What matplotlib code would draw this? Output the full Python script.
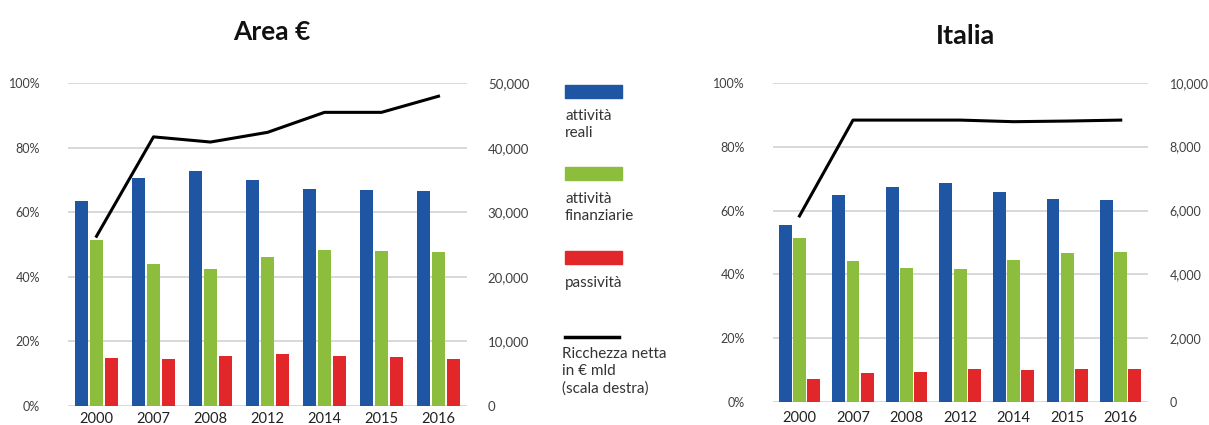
import matplotlib
matplotlib.use("Agg")
import matplotlib.pyplot as plt
import numpy as np
from matplotlib.ticker import FuncFormatter

plt.rcParams['font.family'] = ['Lato', 'DejaVu Sans']

years = ["2000", "2007", "2008", "2012", "2014", "2015", "2016"]

# Area euro (% shares, left axis) and net wealth (right axis, € bn)
ea_reali = [63.6, 70.7, 72.7, 70.0, 67.3, 66.9, 66.6]
ea_finanz = [51.3, 44.0, 42.6, 46.1, 48.2, 48.1, 47.8]
ea_passiv = [15.0, 14.6, 15.5, 16.2, 15.5, 15.2, 14.6]
ea_ricchezza = [26300, 41700, 40900, 42400, 45500, 45500, 48000]

# Italia
it_reali = [55.6, 65.0, 67.4, 68.6, 65.8, 63.7, 63.3]
it_finanz = [51.5, 44.2, 42.0, 41.7, 44.4, 46.7, 47.1]
it_passiv = [7.3, 9.3, 9.6, 10.3, 10.2, 10.3, 10.3]
it_ricchezza = [5830, 8830, 8830, 8830, 8780, 8800, 8830]

titles = ["Area €", "Italia"]
legend_labels = ["attività\nreali", "attività\nfinanziarie", "passività",
                 "Ricchezza netta\nin € mld\n(scala destra)"]

C_BLUE = "#1f56a3"
C_GREEN = "#8dbd3d"
C_RED = "#e2272a"
GRID = "#d2d2d2"
TXT = "#404040"

W, H = 1209, 425
fig = plt.figure(figsize=(W / 100, H / 100), dpi=100)


def px_axes(x0, x1, ytop, ybot):
    return fig.add_axes([x0 / W, (H - ybot) / H, (x1 - x0) / W, (ybot - ytop) / H])


def draw(ax, reali, finanz, passiv, ricch, rmax, rstep, title, title_xy, title_size,
         xlab_pad, lpad, rpad, rsize):
    x = np.arange(len(years))
    off = 0.265
    wd = 0.24
    ax.bar(x - off, reali, wd, color=C_BLUE, zorder=3)
    ax.bar(x, finanz, wd, color=C_GREEN, zorder=3)
    ax.bar(x + off, passiv, wd, color=C_RED, zorder=3)
    ax.set_xlim(-0.5, len(years) - 0.5)
    ax.set_ylim(0, 100)
    ax.set_yticks(range(0, 101, 20))
    ax.yaxis.set_major_formatter(FuncFormatter(lambda v, p: f"{int(v)}%"))
    ax.set_xticks(x)
    ax.set_xticklabels(years)
    ax.grid(axis='y', color=GRID, linewidth=1.2, zorder=0)
    for s in ax.spines.values():
        s.set_visible(False)
    ax.tick_params(axis='y', length=0, labelsize=9, labelcolor=TXT, pad=lpad)
    ax.tick_params(axis='x', length=0, labelsize=10.5, labelcolor="#222222", pad=xlab_pad)

    ax2 = ax.twinx()
    ax2.plot(x, ricch, color="black", linewidth=2.2, zorder=5)
    ax2.set_ylim(0, rmax)
    ax2.set_yticks(np.arange(0, rmax + 1, rstep))
    ax2.yaxis.set_major_formatter(FuncFormatter(lambda v, p: f"{int(v):,}"))
    for s in ax2.spines.values():
        s.set_visible(False)
    ax2.tick_params(axis='y', length=0, labelsize=rsize, labelcolor=TXT, pad=rpad)
    fig.text(title_xy[0] / W, 1 - title_xy[1] / H, title, ha='center', va='center',
             fontsize=title_size, fontweight='bold', color="#111111")


axL = px_axes(68, 467, 83.3, 406)
draw(axL, ea_reali, ea_finanz, ea_passiv, ea_ricchezza, 50000, 10000,
     titles[0], (272, 32), 19, 4, 20, 15, 9.5)

axR = px_axes(772.7, 1147.5, 82.7, 402.3)
draw(axR, it_reali, it_finanz, it_passiv, it_ricchezza, 10000, 2000,
     titles[1], (965, 36), 19.5, 6, 20, 16, 9)

# Legend (manual, in figure pixels)
patch_colors = [C_BLUE, C_GREEN, C_RED]
patch_y = [92, 174, 258]
text_y = [109, 192, 276]
for c, py in zip(patch_colors, patch_y):
    fig.patches.append(plt.Rectangle((565 / W, 1 - (py + 6) / H), 57 / W, 13 / H,
                                     transform=fig.transFigure, color=c, figure=fig))
for lab, ty in zip(legend_labels[:3], text_y):
    fig.text(565 / W, 1 - ty / H, lab, ha='left', va='top', fontsize=11,
             color="#333333", linespacing=1.3)
fig.lines.append(plt.Line2D([565 / W, 619 / W], [1 - 337 / H, 1 - 337 / H],
                            transform=fig.transFigure, color="black", linewidth=2.5))
fig.text(562 / W, 1 - 347 / H, legend_labels[3], ha='left', va='top', fontsize=11,
         color="#333333", linespacing=1.3)

fig.savefig("out.png", dpi=100)
